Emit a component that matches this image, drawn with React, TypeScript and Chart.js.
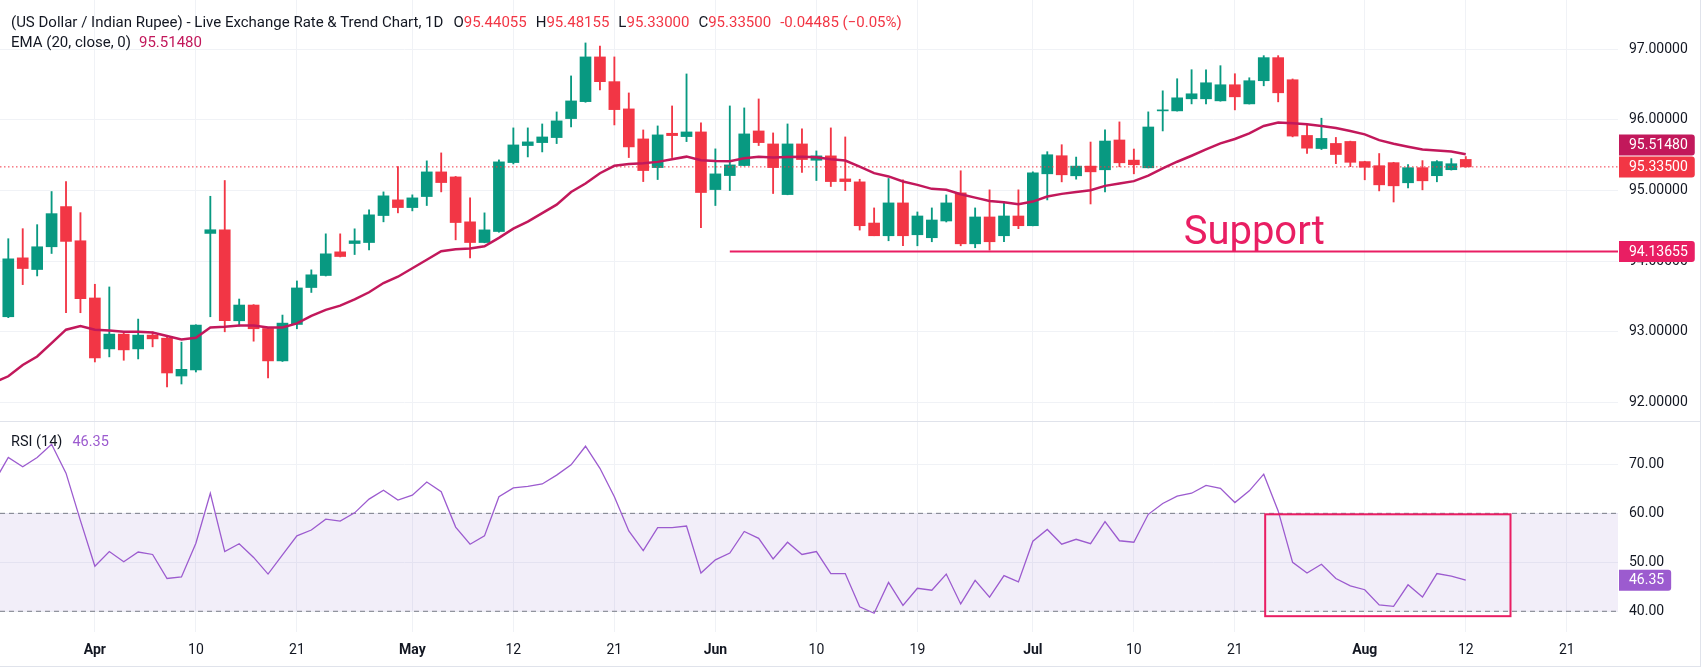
import React, { useEffect, useRef } from "react";
import { Chart, registerables } from "chart.js";

Chart.register(...registerables);

// ---------- data (daily bars, index 0 = first visible bar) ----------
const opens = [
  93.213, 94.047, 93.882, 94.204, 94.773, 94.289, 93.479, 92.758, 92.967, 92.758,
  92.953, 92.91, 92.374, 92.46, 94.393, 94.445, 93.156, 93.379, 93.047, 92.588,
  93.104, 93.627, 93.797, 94.132, 94.25, 94.264, 94.646, 94.868, 94.759, 94.915,
  95.264, 95.193, 94.557, 94.264, 94.42, 95.396, 95.637, 95.679, 95.75, 96.019,
  96.259, 96.892, 96.542, 96.156, 95.731, 95.325, 95.811, 95.764, 95.83, 95.014,
  95.212, 95.354, 95.844, 95.66, 94.943, 95.66, 95.429, 95.491, 95.165, 95.123,
  94.54, 94.36, 94.825, 94.374, 94.332, 94.569, 94.967, 94.246, 94.626, 94.36,
  94.64, 94.502, 95.237, 95.493, 95.209, 95.346, 95.294, 95.716, 95.431, 95.322,
  96.128, 96.128, 96.299, 96.299, 96.27, 96.498, 96.227, 96.555, 96.882, 96.569,
  95.78, 95.595, 95.667, 95.695, 95.41, 95.352, 95.395, 95.11, 95.324, 95.21,
  95.295, 95.44055,
];
const highs = [
  94.318, 94.46, 94.517, 94.986, 95.128, 94.687, 93.673, 93.635, 92.98, 93.18,
  93.0, 92.92, 92.853, 93.1, 94.919, 95.142, 93.464, 93.385, 93.05, 93.237,
  93.72, 93.877, 94.387, 94.387, 94.458, 94.726, 94.981, 95.34, 94.939, 95.42,
  95.533, 95.2, 94.896, 94.684, 95.434, 95.887, 95.887, 95.943, 96.113, 96.623,
  97.09, 97.047, 96.892, 96.382, 95.858, 95.915, 96.198, 96.651, 95.958, 95.59,
  96.198, 96.17, 96.297, 95.816, 95.943, 95.873, 95.561, 95.887, 95.759, 95.16,
  94.754, 95.171, 95.152, 94.697, 94.754, 94.938, 95.28, 94.754, 95.01, 94.839,
  95.01, 95.265, 95.55, 95.649, 95.474, 95.687, 95.858, 95.972, 95.588, 96.114,
  96.412, 96.583, 96.711, 96.711, 96.768, 96.654, 96.597, 96.91, 96.91, 96.58,
  95.938, 96.024, 95.752, 95.7, 95.415, 95.524, 95.4, 95.367, 95.424, 95.424,
  95.452, 95.48155,
];
const lows = [
  93.2, 93.668, 93.791, 94.109, 93.27, 93.27, 92.573, 92.645, 92.597, 92.616,
  92.787, 92.218, 92.261, 92.431, 93.213, 93.0, 93.08, 92.867, 92.346, 92.58,
  93.043, 93.557, 93.79, 94.06, 94.094, 94.16, 94.557, 94.684, 94.712, 94.788,
  94.981, 94.302, 94.047, 94.26, 94.41, 95.377, 95.476, 95.547, 95.665, 95.901,
  96.25, 96.425, 95.929, 95.467, 95.127, 95.156, 95.467, 95.693, 94.476, 94.788,
  95.0, 95.35, 95.637, 94.958, 94.94, 95.255, 95.142, 95.057, 95.0, 94.44,
  94.36, 94.289, 94.218, 94.218, 94.275, 94.555, 94.218, 94.19, 94.156, 94.275,
  94.46, 94.5, 94.867, 95.123, 95.161, 94.81, 94.981, 95.336, 95.237, 95.32,
  95.844, 96.125, 96.227, 96.227, 96.265, 96.142, 96.225, 96.483, 96.256, 95.76,
  95.524, 95.581, 95.381, 95.338, 95.152, 94.995, 94.838, 95.038, 95.01, 95.124,
  95.29, 95.33,
];
const closes = [
  94.033, 93.896, 94.204, 94.673, 94.28, 93.469, 92.63, 92.967, 92.744, 92.953,
  92.9, 92.417, 92.469, 93.095, 94.445, 93.156, 93.379, 93.043, 92.588, 93.123,
  93.621, 93.807, 94.104, 94.066, 94.288, 94.656, 94.925, 94.759, 94.896, 95.264,
  95.113, 94.547, 94.264, 94.443, 95.406, 95.646, 95.689, 95.759, 95.986, 96.269,
  96.892, 96.542, 96.146, 95.618, 95.283, 95.788, 95.778, 95.83, 94.972, 95.236,
  95.363, 95.802, 95.679, 95.325, 95.66, 95.439, 95.491, 95.127, 95.127, 94.502,
  94.36, 94.825, 94.36, 94.64, 94.583, 94.825, 94.246, 94.626, 94.275, 94.64,
  94.502, 95.251, 95.507, 95.223, 95.346, 95.265, 95.701, 95.393, 95.365, 95.9,
  96.142, 96.313, 96.37, 96.526, 96.498, 96.327, 96.555, 96.882, 96.384, 95.771,
  95.6, 95.738, 95.51, 95.4, 95.329, 95.081, 95.067, 95.324, 95.138, 95.41,
  95.37985, 95.335,
];

// indicator series start one bar before the first visible candle (bar -1)
const indicatorStartBar = -1;
const emaValues = [
  92.28,
  92.37, 92.53, 92.65, 92.84, 93.03, 93.08, 93.03, 93.02, 93.0, 93.0,
  92.99, 92.94, 92.89, 92.915, 93.06, 93.07, 93.09, 93.09, 93.06, 93.06,
  93.12, 93.226, 93.31, 93.37, 93.46, 93.56, 93.69, 93.78, 93.9, 94.02,
  94.14, 94.17, 94.18, 94.21, 94.33, 94.46, 94.56, 94.68, 94.8, 94.98,
  95.1, 95.245, 95.35, 95.377, 95.387, 95.406, 95.443, 95.48, 95.43, 95.42,
  95.415, 95.457, 95.48, 95.467, 95.476, 95.48, 95.47, 95.443, 95.425, 95.34,
  95.246, 95.2, 95.128, 95.08, 95.024, 95.01, 94.948, 94.9, 94.853, 94.834,
  94.806, 94.844, 94.915, 94.953, 94.98, 95.005, 95.066, 95.1, 95.133, 95.21,
  95.313, 95.408, 95.493, 95.583, 95.668, 95.73, 95.81, 95.915, 95.962, 95.952,
  95.938, 95.914, 95.886, 95.843, 95.795, 95.714, 95.662, 95.62, 95.58, 95.567,
  95.552, 95.5148,
];
const rsiValues = [
  66.3,
  71.4, 69.5, 71.4, 74.1, 68.2, 58.5, 49.2, 52.2, 50.1, 52.1,
  51.6, 46.7, 47.0, 53.9, 64.1, 52.2, 53.8, 51.0, 47.6, 51.5,
  55.4, 56.6, 58.8, 58.4, 60.1, 62.9, 64.7, 62.7, 63.7, 66.4,
  64.4, 57.2, 53.7, 55.4, 63.4, 65.2, 65.5, 66.0, 67.8, 69.9,
  73.7, 69.2, 63.4, 56.4, 52.4, 57.1, 57.1, 57.4, 47.8, 50.5,
  51.9, 56.3, 54.9, 50.7, 54.1, 51.6, 52.2, 47.7, 47.7, 40.9,
  39.6, 45.9, 41.2, 44.7, 44.3, 47.6, 41.5, 46.3, 42.9, 47.3,
  46.0, 54.3, 56.7, 53.7, 54.7, 53.8, 58.3, 54.4, 54.1, 59.8,
  62.0, 63.5, 64.1, 65.7, 65.1, 62.2, 64.6, 68.0, 60.5, 50.0,
  47.8, 49.6, 46.7, 45.2, 44.4, 41.3, 41.0, 45.4, 42.9, 47.7,
  47.2, 46.35,
];

// time-axis labels (bar index where each label sits)
const xTickBars = [6, 13, 20, 28, 35, 42, 49, 56, 63, 71, 78, 85, 94, 101, 108];
const xTickLabels = ["Apr", "10", "21", "May", "12", "21", "Jun", "10", "19", "Jul", "10", "21", "Aug", "12", "21"];
const monthLabels = ["Apr", "May", "Jun", "Jul", "Aug"];
const priceTicks = [92, 93, 94, 95, 96, 97];
const rsiTicks = [40, 50, 60, 70];

const supportLevel = 94.13655;
const supportStartBar = 50;
const supportText = "Support";
const supportTextBar = 81.45;
const supportTextPrice = 94.245;
const rsiUpper = 60;
const rsiLower = 40;
const rsiBox = { fromBar: 87.1, toBar: 104.1, low: 39.0, high: 59.8 };

const titleText = "(US Dollar / Indian Rupee) - Live Exchange Rate & Trend Chart, 1D";
const emaTitle = "EMA (20, close, 0)";
const rsiTitle = "RSI (14)";

// ---------- view / style ----------
const FONT = "Roboto, 'Noto Sans', 'DejaVu Sans', sans-serif";
const TEXT = "#131722";
const GREEN = "#089981";
const RED = "#f23645";
const EMA_COLOR = "#c2185b";
const SUPPORT_COLOR = "#e91e63";
const RSI_COLOR = "#9c5bcf";
const BAND_LINE = "#787b86";
const BAND_FILL = "rgba(126, 87, 194, 0.1)";
const GRID = "#f0f2f6";
const BORDER = "#e0e3eb";

const W = 1700;
const MAIN_H = 421;
const RSI_H = 244;
const AXIS_W = 82;
const X_AXIS_H = 34;
const X_MIN = -0.575;
const X_MAX = 111.55;
const PRICE_MIN = 91.737;
const PRICE_MAX = 97.698;
const RSI_MIN = 35.77;
const RSI_MAX = 78.65;

const lastIdx = closes.length - 1;
const lastClose = closes[lastIdx];
const lastEma = emaValues[emaValues.length - 1];
const lastRsi = rsiValues[rsiValues.length - 1];
const change = lastClose - closes[lastIdx - 1];
const changePct = (change / closes[lastIdx - 1]) * 100;

const fmtSigned = (v: number, d: number) => (v < 0 ? "−" : "+") + Math.abs(v).toFixed(d);

function setXTicks(scale: any) {
  scale.ticks = xTickBars.map((v) => ({ value: v }));
}
function zeroXPad(h: number) {
  return (scale: any) => {
    scale.height = h;
    scale.paddingLeft = 0;
    scale.paddingRight = 0;
  };
}
function fixYAxis(scale: any) {
  scale.width = AXIS_W;
  scale.paddingTop = 0;
  scale.paddingBottom = 0;
}

function drawValueBox(ctx: any, area: any, text: string, color: string, cy: number) {
  const h = 21;
  ctx.font = `14px ${FONT}`;
  const tw = ctx.measureText(text).width;
  const x0 = area.right + 1;
  const x1 = area.right + 11 + tw + 7;
  ctx.fillStyle = color;
  ctx.beginPath();
  const r = 3;
  ctx.moveTo(x0, cy - h / 2);
  ctx.lineTo(x1 - r, cy - h / 2);
  ctx.quadraticCurveTo(x1, cy - h / 2, x1, cy - h / 2 + r);
  ctx.lineTo(x1, cy + h / 2 - r);
  ctx.quadraticCurveTo(x1, cy + h / 2, x1 - r, cy + h / 2);
  ctx.lineTo(x0, cy + h / 2);
  ctx.closePath();
  ctx.fill();
  ctx.fillStyle = "#ffffff";
  ctx.textAlign = "left";
  ctx.textBaseline = "middle";
  ctx.fillText(text, area.right + 11, cy + 0.5);
}

const mainOverlay = {
  id: "mainOverlay",
  afterDatasetsDraw(chart: any) {
    const { ctx, scales } = chart;
    ctx.save();
    ctx.font = `40px ${FONT}`;
    ctx.fillStyle = SUPPORT_COLOR;
    ctx.textAlign = "left";
    ctx.textBaseline = "alphabetic";
    ctx.fillText(supportText, scales.x.getPixelForValue(supportTextBar), scales.y.getPixelForValue(supportTextPrice));
    ctx.restore();
  },
  afterDraw(chart: any) {
    const { ctx, chartArea, scales } = chart;
    const ys = scales.y;
    ctx.save();
    const h = 21;
    const lastY = ys.getPixelForValue(lastClose);
    let emaY = ys.getPixelForValue(lastEma);
    if (emaY > lastY - h - 1) emaY = lastY - h - 1;
    drawValueBox(ctx, chartArea, supportLevel.toFixed(5), SUPPORT_COLOR, ys.getPixelForValue(supportLevel));
    drawValueBox(ctx, chartArea, lastEma.toFixed(5), EMA_COLOR, emaY);
    drawValueBox(ctx, chartArea, lastClose.toFixed(5), RED, lastY);
    ctx.restore();
  },
};

const rsiOverlay = {
  id: "rsiOverlay",
  afterDatasetsDraw(chart: any) {
    const { ctx, scales } = chart;
    const x0 = scales.x.getPixelForValue(rsiBox.fromBar);
    const x1 = scales.x.getPixelForValue(rsiBox.toBar);
    const y0 = scales.y.getPixelForValue(rsiBox.high);
    const y1 = scales.y.getPixelForValue(rsiBox.low);
    ctx.save();
    ctx.strokeStyle = SUPPORT_COLOR;
    ctx.lineWidth = 2;
    ctx.strokeRect(x0, y0, x1 - x0, y1 - y0);
    ctx.restore();
  },
  afterDraw(chart: any) {
    const { ctx, chartArea, scales } = chart;
    ctx.save();
    drawValueBox(ctx, chartArea, lastRsi.toFixed(2), RSI_COLOR, scales.y.getPixelForValue(lastRsi));
    ctx.restore();
  },
};

export default function App() {
  const mainRef = useRef<HTMLCanvasElement>(null);
  const rsiRef = useRef<HTMLCanvasElement>(null);

  useEffect(() => {
    const bars = opens.map((_, i) => i);
    const candleColors = bars.map((i) => (closes[i] >= opens[i] ? GREEN : RED));

    const main = new Chart(mainRef.current as HTMLCanvasElement, {
      type: "bar",
      data: {
        datasets: [
          {
            type: "line",
            data: emaValues.map((v, i) => ({ x: i + indicatorStartBar, y: v })),
            borderColor: EMA_COLOR,
            borderWidth: 2.5,
            pointRadius: 0,
            tension: 0,
            order: 1,
          } as any,
          {
            type: "line",
            data: [
              { x: X_MIN, y: lastClose },
              { x: X_MAX, y: lastClose },
            ],
            borderColor: RED,
            borderWidth: 1,
            borderDash: [1.5, 2.5],
            pointRadius: 0,
            order: 2,
          } as any,
          {
            type: "line",
            data: [
              { x: supportStartBar, y: supportLevel },
              { x: X_MAX, y: supportLevel },
            ],
            borderColor: SUPPORT_COLOR,
            borderWidth: 2,
            pointRadius: 0,
            order: 3,
          } as any,
          {
            type: "bar",
            data: bars.map((i) => ({ x: i, y: [opens[i], closes[i]] })),
            backgroundColor: candleColors,
            barThickness: 11,
            minBarLength: 1,
            grouped: false,
            order: 4,
          } as any,
          {
            type: "bar",
            data: bars.map((i) => ({ x: i, y: [lows[i], highs[i]] })),
            backgroundColor: candleColors,
            barThickness: 1.2,
            grouped: false,
            order: 5,
          } as any,
        ],
      },
      options: {
        responsive: false,
        animation: false,
        layout: { padding: 0 },
        plugins: { legend: { display: false }, tooltip: { enabled: false } },
        scales: {
          x: {
            type: "linear",
            min: X_MIN,
            max: X_MAX,
            offset: false,
            grid: { color: GRID, drawTicks: false, offset: false },
            border: { display: false },
            ticks: { display: false },
            afterBuildTicks: setXTicks,
            afterFit: zeroXPad(0),
          },
          y: {
            position: "right",
            min: PRICE_MIN,
            max: PRICE_MAX,
            grid: { color: GRID, drawTicks: false },
            border: { display: false },
            ticks: {
              padding: 11,
              color: TEXT,
              font: { family: FONT, size: 14 },
              callback: (v: any) => Number(v).toFixed(5),
            },
            afterBuildTicks: (s: any) => {
              s.ticks = priceTicks.map((v) => ({ value: v }));
            },
            afterFit: fixYAxis,
          },
        },
      } as any,
      plugins: [mainOverlay],
    });

    const rsi = new Chart(rsiRef.current as HTMLCanvasElement, {
      type: "line",
      data: {
        datasets: [
          {
            data: rsiValues.map((v, i) => ({ x: i + indicatorStartBar, y: v })),
            borderColor: RSI_COLOR,
            borderWidth: 1.3,
            pointRadius: 0,
            tension: 0,
            fill: false,
            order: 1,
          },
          {
            data: [
              { x: X_MIN, y: rsiUpper },
              { x: X_MAX, y: rsiUpper },
            ],
            borderColor: BAND_LINE,
            borderWidth: 1,
            borderDash: [5, 4],
            pointRadius: 0,
            fill: false,
            order: 2,
          },
          {
            data: [
              { x: X_MIN, y: rsiLower },
              { x: X_MAX, y: rsiLower },
            ],
            borderColor: BAND_LINE,
            borderWidth: 1,
            borderDash: [5, 4],
            pointRadius: 0,
            fill: "-1",
            backgroundColor: BAND_FILL,
            order: 3,
          },
        ],
      } as any,
      options: {
        responsive: false,
        animation: false,
        layout: { padding: 0 },
        plugins: { legend: { display: false }, tooltip: { enabled: false } },
        scales: {
          x: {
            type: "linear",
            min: X_MIN,
            max: X_MAX,
            offset: false,
            grid: { color: GRID, drawTicks: false, offset: false },
            border: { display: false },
            ticks: {
              padding: 10,
              color: TEXT,
              maxRotation: 0,
              autoSkip: false,
              font: (c: any) => ({
                family: FONT,
                size: 14,
                weight: monthLabels.includes(xTickLabels[c.index]) ? "bold" : "normal",
              }),
              callback: (_v: any, i: number) => xTickLabels[i],
            },
            afterBuildTicks: setXTicks,
            afterFit: zeroXPad(X_AXIS_H),
          },
          y: {
            position: "right",
            min: RSI_MIN,
            max: RSI_MAX,
            grid: { color: GRID, drawTicks: false },
            border: { display: false },
            ticks: {
              padding: 11,
              color: TEXT,
              font: { family: FONT, size: 14 },
              callback: (v: any) => Number(v).toFixed(2),
            },
            afterBuildTicks: (s: any) => {
              s.ticks = rsiTicks.map((v) => ({ value: v }));
            },
            afterFit: fixYAxis,
          },
        },
      } as any,
      plugins: [rsiOverlay],
    });

    return () => {
      main.destroy();
      rsi.destroy();
    };
  }, []);

  const legendStyle: React.CSSProperties = {
    position: "absolute",
    left: 11,
    font: `15px ${FONT}`,
    color: TEXT,
    lineHeight: "18px",
    whiteSpace: "nowrap",
    pointerEvents: "none",
  };
  const gap = { marginLeft: 9 };

  return (
    <div style={{ position: "absolute", left: 0, top: 0, width: 1702, height: 671, background: "#ffffff", overflow: "hidden" }}>
      <canvas ref={mainRef} width={W} height={MAIN_H} style={{ position: "absolute", left: 0, top: 0, width: W, height: MAIN_H }} />
      <div style={{ position: "absolute", left: 0, top: MAIN_H, width: W + 1, height: 1, background: BORDER }} />
      <canvas ref={rsiRef} width={W} height={RSI_H} style={{ position: "absolute", left: 0, top: MAIN_H + 1, width: W, height: RSI_H }} />
      <div style={{ position: "absolute", left: 0, top: MAIN_H + 1 + RSI_H, width: W + 1, height: 1, background: BORDER }} />
      <div style={{ position: "absolute", left: W, top: 0, width: 1, height: MAIN_H + RSI_H + 2, background: BORDER }} />

      <div style={{ ...legendStyle, top: 13 }}>
        <span>{titleText}</span>
        <span style={{ marginLeft: 10 }}>
          O<span style={{ color: RED }}>{opens[lastIdx].toFixed(5)}</span>
        </span>
        <span style={gap}>
          H<span style={{ color: RED }}>{highs[lastIdx].toFixed(5)}</span>
        </span>
        <span style={gap}>
          L<span style={{ color: RED }}>{lows[lastIdx].toFixed(5)}</span>
        </span>
        <span style={gap}>
          C<span style={{ color: RED }}>{lastClose.toFixed(5)}</span>
        </span>
        <span style={{ ...gap, color: RED }}>
          {(change < 0 ? "-" : "+") + Math.abs(change).toFixed(5)} ({fmtSigned(changePct, 2)}%)
        </span>
      </div>
      <div style={{ ...legendStyle, top: 33 }}>
        <span>{emaTitle}</span>
        <span style={{ marginLeft: 8, color: EMA_COLOR }}>{lastEma.toFixed(5)}</span>
      </div>
      <div style={{ ...legendStyle, top: 433, fontSize: 14.5 }}>
        <span>{rsiTitle}</span>
        <span style={{ marginLeft: 10, color: RSI_COLOR }}>{lastRsi.toFixed(2)}</span>
      </div>
    </div>
  );
}
